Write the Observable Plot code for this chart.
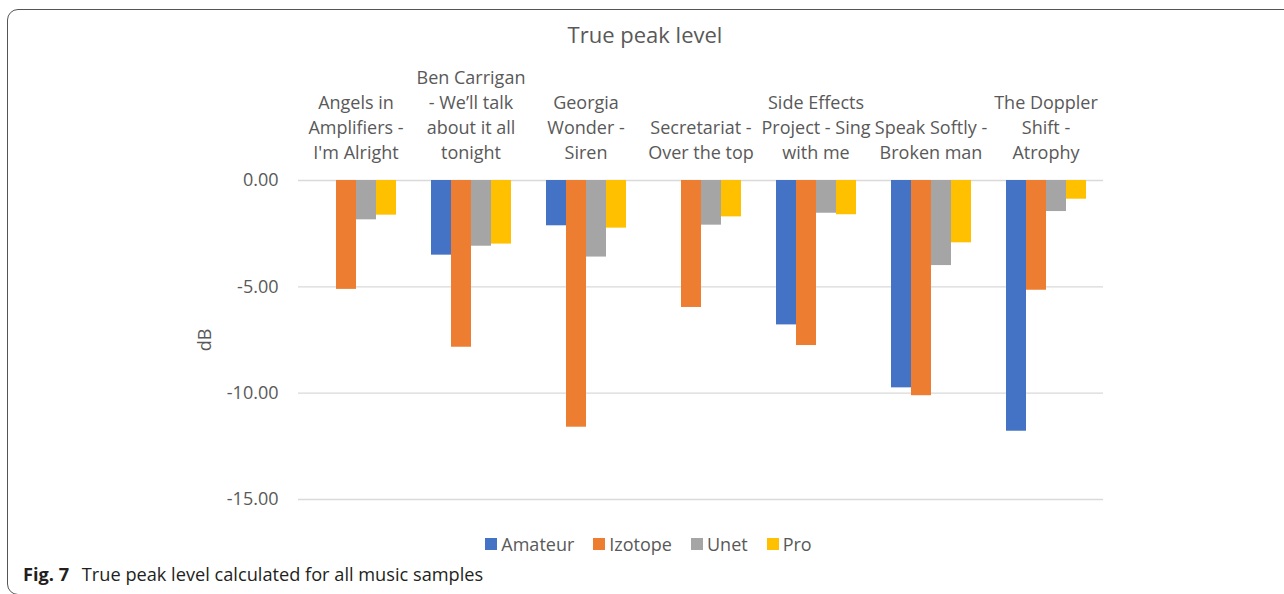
<!DOCTYPE html>
<html><head><meta charset="utf-8">
<script src="https://cdn.jsdelivr.net/npm/d3@7"></script>
<script src="https://cdn.jsdelivr.net/npm/@observablehq/plot@0.6"></script>
<style>
body{margin:0;background:#fff;font-family:"Open Sans",sans-serif;}
#wrap{position:relative;width:1284px;height:594px;overflow:hidden;background:#fff;}
#border{position:absolute;left:7px;top:9px;width:1400px;height:586px;border:1.3px solid #555;border-radius:11px;box-sizing:border-box;}
#title{position:absolute;left:0;top:19px;width:1290px;text-align:center;font-size:22px;color:#595959;line-height:30px;}
#chart{position:absolute;left:0;top:0;}
#legend{position:absolute;left:0;top:532px;width:1297px;display:flex;justify-content:center;}
#legend *{font-family:"Open Sans",sans-serif !important;font-size:18px !important;color:#595959 !important;}
#legend .lg-swatches{margin:0 !important;min-height:0 !important;justify-content:center;}
#legend .lg-swatch{margin-right:19px !important;}
#legend .lg-swatch:last-child{margin-right:0 !important;}
#legend .lg-swatch > svg{margin-right:4px !important;}
#caption{position:absolute;left:23px;top:562px;font-size:18.2px;color:#231f20;line-height:24px;white-space:nowrap;}
#caption b{font-weight:700;margin-right:8px;}
</style>
</head><body>
<div id="wrap">
  <div id="border"></div>
  <div id="title">True peak level</div>
  <div id="chart"></div>
  <div id="legend"></div>
  <div id="caption"><b>Fig. 7</b> True peak level calculated for all music samples</div>
</div>
<script>
const categories = [
  "Angels in\nAmplifiers -\nI'm Alright",
  "Ben Carrigan\n- We\u2019ll talk\nabout it all\ntonight",
  "Georgia\nWonder -\nSiren",
  "Secretariat -\nOver the top",
  "Side Effects\nProject - Sing\nwith me",
  "Speak Softly -\nBroken man",
  "The Doppler\nShift -\nAtrophy"
];
const series = ["Amateur", "Izotope", "Unet", "Pro"];
const amateur = [null, -3.51, -2.13, null, -6.79, -9.75, -11.79];
const izotope = [-5.12, -7.84, -11.60, -5.97, -7.76, -10.12, -5.16];
const unet    = [-1.85, -3.09, -3.60, -2.10, -1.54, -4.00, -1.46];
const pro     = [-1.63, -2.99, -2.24, -1.71, -1.61, -2.93, -0.88];
const colors  = ["#4472C4", "#ED7D31", "#A5A5A5", "#FFC000"];
const yTicks  = [0, -5, -10, -15];

const seriesValues = [amateur, izotope, unet, pro];
const rows = [];
categories.forEach((c, i) => {
  series.forEach((s, j) => {
    const v = seriesValues[j][i];
    if (v != null) rows.push({cat: c, series: s, value: v});
  });
});

const chart = Plot.plot({
  width: 1284, height: 520,
  marginTop: 180, marginBottom: 21, marginLeft: 296, marginRight: 180,
  style: {fontFamily: '"Open Sans", sans-serif', fontSize: "18px", color: "#595959", background: "transparent"},
  fx: {domain: categories, padding: 0, label: null},
  x: {domain: series, paddingInner: 0, paddingOuter: 0.75, axis: null},
  y: {domain: [-15, 0], label: "dB"},
  color: {domain: series, range: colors},
  marks: [
    Plot.gridY(yTicks, {stroke: "#d9d9d9", strokeOpacity: 1, strokeWidth: 1.3}),
    Plot.barY(rows, {fx: "cat", x: "series", y: "value", fill: "series"}),
    Plot.axisFx({anchor: "top", tickSize: 0, tickPadding: 21.5, lineHeight: 1.39, fontSize: 18, fill: "#595959", label: null}),
    Plot.axisY(yTicks, {anchor: "left", tickSize: 0, tickPadding: 20, tickFormat: d => d.toFixed(2), fontSize: 18, fill: "#595959", label: "dB", labelAnchor: "center", labelOffset: 100, labelArrow: "none"})
  ]
});
document.getElementById("chart").appendChild(chart);

const legend = Plot.legend({color: {domain: series, range: colors}, legend: "swatches", swatchSize: 12, className: "lg"});
document.getElementById("legend").appendChild(legend);
</script>
</body></html>
